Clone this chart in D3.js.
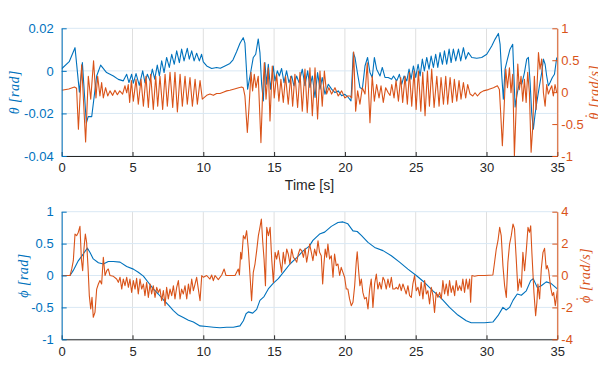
<!DOCTYPE html>
<html lang="en">
<head>
<meta charset="UTF-8">
<title>Angles</title>
<style>
  body { margin: 0; background: #fff; }
  svg { display: block; }
</style>
</head>
<body>
<svg id="chart" width="598" height="387"></svg>

<script src="https://d3js.org/d3.v7.min.js"></script>
<script>
// ---- data ----
const xTicks = [0, 5, 10, 15, 20, 25, 30, 35]
const thetaTicks = [-0.04, -0.02, 0, 0.02]
const thetaDotTicks = [-1, -0.5, 0, 0.5, 1]
const phiTicks = [-1, -0.5, 0, 0.5, 1]
const phiDotTicks = [-4, -2, 0, 2, 4]

// [time s, theta rad]
const theta = [
  [0,0.0010],[0.53,0.0043],[0.94,0.0109],[1.25,-0.0100],[1.46,0.0039],[1.74,-0.0245],[1.87,-0.0215],[2.12,-0.0215],
  [2.47,-0.0024],[2.75,0.0027],[3.17,-0.0008],[3.65,-0.0024],[4.0,-0.0040],[4.35,-0.0047],
  [4.59,-0.0016],[4.75,-0.0055],[4.94,-0.0016],[5.06,-0.0058],[5.25,-0.0013],[5.48,-0.0068],[5.72,0.0000],[5.88,-0.0055],
  [6.05,-0.0016],[6.24,-0.0047],[6.40,0.0008],[6.57,-0.0039],[6.75,0.0027],[6.90,-0.0024],[7.06,0.0047],[7.23,-0.0008],
  [7.41,0.0063],[7.60,0.0016],[7.77,0.0078],[7.95,0.0031],[8.12,0.0094],[8.31,0.0039],[8.47,0.0102],[8.64,0.0047],
  [8.87,0.0106],[9.01,0.0055],[9.18,0.0094],[9.35,0.0047],[9.53,0.0083],[9.72,0.0047],[9.88,0.0078],[10.0,0.0042],
  [10.24,0.0023],[10.59,0.0011],[10.94,0.0016],[11.2,0.0012],[11.53,0.0023],[11.88,0.0035],[12.1,0.0052],[12.35,0.0090],
  [12.59,0.0130],[12.82,0.0156],[12.94,0.0130],[13.13,-0.0086],[13.30,-0.0024],[13.53,0.0063],[13.70,0.0078],[13.88,0.0150],
  [14.0,0.0086],[14.12,-0.0063],[14.24,-0.0141],[14.35,0.0039],[14.47,-0.0063],[14.59,0.0031],[14.75,-0.0086],[14.94,0.0023],
  [15.06,-0.0047],[15.23,0.0000],[15.37,-0.0024],[15.53,0.0011],[15.70,-0.0055],[15.88,0.0000],[16.05,-0.0055],[16.24,-0.0024],
  [16.40,-0.0070],[16.59,-0.0024],[16.76,-0.0055],[16.99,0.0008],[17.18,-0.0070],[17.37,0.0000],[17.53,-0.0078],[17.70,-0.0024],
  [17.89,-0.0125],[18.07,-0.0008],[18.24,-0.0086],[18.40,-0.0031],[18.59,-0.0110],[18.83,-0.0063],[19.06,-0.0086],[19.30,-0.0102],
  [19.53,-0.0094],[19.77,-0.0117],[20.0,-0.0110],[20.24,-0.0125],[20.43,-0.0141],[20.59,0.0086],[20.71,0.0063],[20.90,-0.0016],
  [21.06,-0.0078],[21.23,-0.0086],[21.42,0.0023],[21.60,0.0063],[21.77,-0.0008],[21.93,-0.0031],[22.08,0.0063],[22.24,0.0008],
  [22.48,-0.0024],[22.64,0.0016],[22.83,-0.0031],[23.06,-0.0031],[23.30,-0.0039],[23.43,-0.0024],[23.66,-0.0047],[23.85,-0.0016],
  [24.01,-0.0063],[24.18,-0.0024],[24.37,-0.0047],[24.53,0.0008],[24.67,-0.0039],[24.84,0.0023],[25.0,-0.0031],[25.17,0.0031],
  [25.31,-0.0024],[25.47,0.0055],[25.61,0.0000],[25.78,0.0063],[25.94,0.0008],[26.09,0.0070],[26.25,0.0016],[26.41,0.0078],
  [26.56,0.0016],[26.72,0.0086],[26.89,0.0031],[27.03,0.0094],[27.19,0.0031],[27.36,0.0102],[27.50,0.0039],[27.66,0.0102],
  [27.83,0.0047],[28.02,0.0102],[28.18,0.0047],[28.37,0.0109],[28.53,0.0055],[28.72,0.0086],[28.96,0.0063],[29.31,0.0059],
  [29.66,0.0063],[30.02,0.0078],[30.37,0.0117],[30.60,0.0148],[30.84,0.0176],[30.96,0.0125],[31.08,-0.0024],[31.19,-0.0133],
  [31.31,0.0008],[31.48,0.0055],[31.66,0.0102],[31.85,0.0125],[32.02,-0.0170],[32.14,-0.0117],[32.32,-0.0055],[32.49,-0.0063],
  [32.68,-0.0008],[32.84,0.0055],[32.96,0.0063],[33.08,-0.0055],[33.19,-0.0196],[33.31,-0.0274],[33.43,-0.0204],[33.55,-0.0149],
  [33.74,-0.0070],[33.90,-0.0008],[34.02,0.0055],[34.14,0.0031],[34.25,-0.0024],[34.37,-0.0070],[34.49,-0.0055],[34.65,-0.0031],
  [34.80,-0.0016],[34.96,0.0063]
]

// [time s, theta dot rad/s]
const thetaDot = [
  [0,0.03],[0.5,0.05],[0.9,0.08],[1.05,0.06],[1.18,-0.58],[1.41,0.43],[1.69,-0.78],[1.88,0.25],[2.05,-0.11],[2.25,0.49],
  [2.42,-0.09],[2.54,0.25],[2.70,-0.06],[2.82,0.15],[2.94,-0.09],[3.10,0.07],[3.25,-0.06],[3.41,0.02],[3.60,-0.05],[3.76,0.03],
  [3.93,-0.04],[4.10,0.02],[4.30,-0.03],[4.47,0.10],[4.59,-0.01],[4.70,0.12],[4.80,-0.16],[4.92,0.18],[5.06,-0.14],[5.25,0.20],
  [5.41,-0.19],[5.60,0.20],[5.77,-0.22],[5.95,0.25],[6.12,-0.24],[6.28,0.28],[6.47,-0.27],[6.64,0.25],[6.78,-0.22],[6.94,0.25],
  [7.13,-0.27],[7.30,0.28],[7.46,-0.22],[7.65,0.31],[7.84,-0.24],[8.00,0.31],[8.17,-0.31],[8.36,0.28],[8.52,-0.22],[8.71,0.25],
  [8.87,-0.19],[9.06,0.23],[9.23,-0.22],[9.42,0.20],[9.58,-0.19],[9.77,0.18],[9.93,-0.11],[10.24,-0.05],[10.47,-0.03],[10.71,-0.05],
  [10.94,-0.02],[11.18,-0.02],[11.41,0.00],[11.65,0.02],[11.88,0.03],[12.2,0.05],[12.5,0.07],[12.71,0.08],[12.82,0.07],[12.94,-0.06],
  [13.11,-0.63],[13.22,-0.27],[13.37,0.31],[13.48,0.02],[13.60,0.28],[13.72,0.07],[13.88,0.25],[14.07,-0.79],[14.19,-0.01],[14.31,0.46],
  [14.43,-0.11],[14.59,0.38],[14.71,-0.45],[14.87,0.41],[15.01,-0.09],[15.18,0.28],[15.34,-0.14],[15.48,0.20],[15.65,-0.16],[15.81,0.25],
  [16.0,-0.19],[16.17,0.25],[16.31,-0.22],[16.47,0.28],[16.66,-0.24],[16.83,0.31],[16.99,-0.30],[17.18,0.36],[17.34,-0.32],[17.53,0.38],
  [17.70,-0.37],[17.89,0.38],[18.07,-0.42],[18.24,0.33],[18.40,-0.22],[18.55,0.33],[18.71,-0.03],[18.87,0.07],[19.06,-0.03],[19.30,0.07],
  [19.53,-0.06],[19.77,0.02],[20.0,-0.09],[20.19,-0.06],[20.36,-0.06],[20.48,-0.09],[20.62,0.63],[20.76,-0.30],[20.90,0.02],[21.06,-0.19],
  [21.23,0.07],[21.42,-0.03],[21.58,0.46],[21.77,-0.48],[21.93,0.25],[22.08,-0.14],[22.24,0.12],[22.41,-0.09],[22.55,0.10],[22.71,-0.16],
  [22.88,0.07],[23.06,-0.01],[23.19,-0.05],[23.31,0.12],[23.47,-0.09],[23.61,0.18],[23.78,-0.14],[23.94,0.23],[24.08,-0.16],[24.25,0.25],
  [24.41,-0.19],[24.56,0.31],[24.72,-0.22],[24.88,0.33],[25.03,-0.27],[25.19,0.33],[25.36,-0.30],[25.50,0.31],[25.66,-0.37],[25.83,0.33],
  [25.97,-0.22],[26.13,0.36],[26.30,-0.24],[26.49,0.25],[26.65,-0.22],[26.79,0.23],[26.96,-0.19],[27.12,0.25],[27.26,-0.19],[27.43,0.23],
  [27.59,-0.16],[27.73,0.20],[27.90,-0.14],[28.06,0.18],[28.20,-0.11],[28.37,0.15],[28.53,-0.09],[28.67,0.12],[28.84,-0.03],[29.03,-0.06],
  [29.19,-0.01],[29.36,-0.06],[29.55,-0.01],[29.78,0.02],[30.13,0.04],[30.49,0.07],[30.77,0.10],[30.91,0.04],[31.00,-0.32],[31.12,-0.84],
  [31.24,-0.27],[31.36,0.36],[31.48,0.07],[31.62,0.38],[31.73,-0.01],[31.85,0.28],[31.97,-1.0],[32.09,-0.27],[32.21,0.44],[32.32,0.04],
  [32.44,0.25],[32.56,-0.14],[32.68,0.20],[32.80,-0.16],[32.91,0.31],[33.03,-0.01],[33.15,-0.94],[33.27,-0.53],[33.38,0.25],[33.50,-0.27],
  [33.67,0.62],[33.78,0.36],[33.90,0.52],[34.02,-0.01],[34.14,-0.22],[34.25,0.12],[34.37,-0.03],[34.49,0.04],[34.61,0.10],[34.72,-0.06],
  [34.84,0.12],[34.96,-0.01]
]

// [time s, phi rad]
const phi = [
  [0,0],[0.59,0],[0.82,0.08],[1.17,0.23],[1.53,0.34],[1.81,0.43],[2.0,0.36],[2.23,0.26],[2.59,0.20],[2.94,0.18],[3.29,0.22],
  [3.65,0.22],[4.12,0.21],[4.59,0.14],[5.06,0.10],[5.41,0.05],[5.77,-0.01],[6.12,-0.11],[6.47,-0.21],[6.82,-0.29],[7.18,-0.38],
  [7.53,-0.46],[7.89,-0.55],[8.24,-0.62],[8.59,-0.66],[8.95,-0.70],[9.30,-0.73],[9.77,-0.79],[10.24,-0.80],[10.71,-0.81],[11.18,-0.82],
  [11.65,-0.81],[12.12,-0.81],[12.59,-0.79],[12.83,-0.71],[13.02,-0.60],[13.18,-0.57],[13.49,-0.59],[13.77,-0.53],[14.0,-0.39],
  [14.29,-0.33],[14.59,-0.21],[14.95,-0.12],[15.30,-0.05],[15.65,0.05],[16.12,0.18],[16.6,0.28],[17.07,0.39],[17.49,0.46],
  [17.74,0.55],[18.21,0.65],[18.57,0.68],[19.04,0.77],[19.51,0.83],[19.86,0.84],[20.21,0.81],[20.57,0.70],[20.87,0.69],[21.16,0.63],
  [21.63,0.52],[22.1,0.44],[22.69,0.39],[23.28,0.31],[23.86,0.21],[24.45,0.10],[25.04,0.0],[25.63,-0.11],[26.22,-0.24],[26.81,-0.36],
  [27.39,-0.50],[27.98,-0.62],[28.57,-0.71],[28.92,-0.74],[29.4,-0.74],[29.87,-0.74],[30.45,-0.73],[30.81,-0.63],[31.16,-0.50],
  [31.39,-0.54],[31.63,-0.50],[31.87,-0.39],[32.17,-0.29],[32.46,-0.31],[32.81,-0.24],[33.12,-0.08],[33.3,-0.05],[33.59,-0.19],
  [33.87,-0.16],[34.22,-0.10],[34.53,-0.12],[35.0,-0.21]
]

// [time s, phi dot rad/s]
const phiDot = [
  [0,0],[0.59,0],[0.71,0.41],[0.82,0.93],[0.94,2.6],[1.06,2.5],[1.17,2.7],[1.29,3.08],[1.39,1.03],[1.48,0.3],[1.57,1.66],[1.67,2.6],
  [1.76,2.08],[1.86,0.51],[1.95,-1.26],[2.05,-2.1],[2.14,-1.37],[2.23,-2.62],[2.35,-2.31],[2.47,-0.85],[2.59,-0.53],[2.7,-0.32],
  [2.82,-0.53],[2.94,1.14],[3.06,0],[3.18,0.30],[3.29,0.41],[3.41,0],[3.65,-0.05],[3.88,-0.22],[4.0,-0.43],[4.12,-0.11],[4.24,-0.85],
  [4.35,-0.22],[4.47,-0.64],[4.59,-0.11],[4.71,-0.74],[4.82,-0.22],[4.94,-1.06],[5.06,-0.32],[5.18,-0.85],[5.29,-0.18],[5.41,-1.16],
  [5.53,-0.22],[5.65,-0.85],[5.77,-0.53],[5.88,-1.26],[6.0,-0.43],[6.12,-1.37],[6.24,-0.53],[6.35,-1.16],[6.47,-0.64],[6.59,-1.37],
  [6.71,-0.74],[6.82,-1.06],[6.94,-0.85],[7.06,-1.58],[7.18,-0.95],[7.3,-1.89],[7.41,-0.74],[7.53,-1.47],[7.65,-0.85],[7.77,-1.26],
  [7.89,-0.64],[8.0,-1.47],[8.12,-0.74],[8.24,-0.32],[8.36,-1.47],[8.47,-0.85],[8.59,-1.16],[8.71,-0.64],[8.83,-1.47],[8.95,-0.53],
  [9.06,-1.16],[9.18,-0.22],[9.3,-0.95],[9.42,-0.53],[9.53,-0.11],[9.65,-0.85],[9.77,-1.58],[9.89,0],[10.0,-0.11],[10.24,0],
  [10.47,-0.22],[10.59,0.03],[10.71,-0.32],[10.83,0],[11.06,-0.26],[11.3,0.03],[11.47,0.41],[11.6,0],[11.88,0],[12.24,0],[12.47,0.41],
  [12.55,0.03],[12.64,1.45],[12.71,1.03],[12.83,2.5],[12.95,2.29],[13.06,2.81],[13.18,1.66],[13.3,0],[13.41,-1.58],[13.53,0.2],
  [13.65,0.72],[13.77,1.56],[13.89,2.5],[14.0,3.02],[14.1,3.54],[14.2,2.08],[14.29,1.03],[14.39,-0.64],[14.48,3.02],[14.6,2.5],
  [14.72,3.02],[14.83,1.03],[14.95,-0.43],[15.07,1.45],[15.18,1.03],[15.3,1.56],[15.42,0.83],[15.53,0.2],[15.65,1.45],[15.77,0.72],
  [15.89,1.66],[16.0,1.35],[16.12,0.72],[16.24,1.66],[16.36,1.14],[16.48,1.03],[16.6,0.83],[16.71,1.35],[16.83,1.66],[16.95,1.56],
  [17.07,1.14],[17.19,1.7],[17.3,0.83],[17.39,1.3],[17.51,1.97],[17.63,1.45],[17.74,0.93],[17.86,1.66],[17.98,1.24],[18.1,2.18],
  [18.21,1.45],[18.33,1.24],[18.43,-0.53],[18.52,0.72],[18.61,1.66],[18.71,1.14],[18.8,1.97],[18.92,1.03],[19.04,1.24],[19.16,-0.11],
  [19.27,1.35],[19.39,0.62],[19.51,0.72],[19.63,0],[19.74,0.51],[19.86,0.2],[19.98,-0.11],[20.1,-0.85],[20.21,-0.85],[20.33,-1.47],
  [20.45,-1.89],[20.57,-1.68],[20.69,-0.64],[20.8,0.83],[20.87,1.49],[20.97,0.3],[21.06,-0.64],[21.16,-0.22],[21.27,-1.06],[21.39,-1.47],
  [21.51,-1.37],[21.63,-2.1],[21.75,-0.85],[21.86,-0.22],[21.98,-2.0],[22.1,-0.53],[22.22,0.09],[22.33,-0.85],[22.45,-0.43],[22.57,-0.85],
  [22.69,-0.11],[22.8,-0.32],[22.92,-0.85],[23.04,-0.22],[23.16,-0.74],[23.28,-0.11],[23.39,-0.85],[23.51,-0.85],[23.63,-0.74],[23.75,-0.85],
  [23.86,-0.53],[23.98,-0.95],[24.1,-0.53],[24.22,-0.85],[24.33,-1.16],[24.45,-0.64],[24.57,-1.26],[24.69,-1.37],[24.8,-0.53],[24.92,0],
  [25.04,-0.95],[25.16,-0.74],[25.28,-1.26],[25.39,-0.43],[25.51,-1.47],[25.63,-0.32],[25.75,-1.16],[25.86,-0.95],[25.98,-1.79],[26.1,-0.74],
  [26.22,-1.26],[26.33,-2.31],[26.45,-1.06],[26.57,-1.37],[26.69,-1.06],[26.81,-1.47],[26.92,-0.32],[27.04,-1.16],[27.16,-0.53],[27.28,-1.26],
  [27.39,-0.32],[27.51,-1.06],[27.63,-0.64],[27.75,-1.26],[27.86,-0.32],[27.98,-0.95],[28.1,-0.64],[28.22,-0.95],[28.33,-0.22],[28.45,-1.06],
  [28.57,-0.22],[28.69,-0.85],[28.81,-0.22],[28.88,-1.68],[28.97,0],[29.16,-0.05],[29.4,0],[29.87,0],[30.45,0.03],[30.57,0.83],[30.69,1.66],
  [30.81,2.18],[30.93,3.02],[31.04,2.5],[31.16,0.62],[31.28,-0.64],[31.4,-1.37],[31.51,0.83],[31.63,1.97],[31.75,2.5],[31.87,3.23],
  [31.98,2.92],[32.1,1.03],[32.22,-0.95],[32.34,-0.22],[32.46,-0.74],[32.57,1.45],[32.69,0.3],[32.81,1.56],[32.93,3.02],[33.04,2.71],
  [33.12,3.12],[33.21,1.35],[33.35,-1.06],[33.47,-2.52],[33.56,-1.68],[33.63,-0.53],[33.75,-1.47],[33.87,0.41],[33.99,1.45],[34.1,1.7],
  [34.22,0.41],[34.29,0.62],[34.39,0.3],[34.53,-0.74],[34.65,-1.26],[34.74,-1.06],[34.86,-1.89],[35.0,-0.95]
]

// ---- drawing ----
const BLUE = "#0072BD"
const ORANGE = "#D95319"
const DARK = "#262626"
const TICK_FONT = "'Liberation Sans', Arial, Helvetica, sans-serif"
const MATH_FONT = "'Liberation Serif', 'Times New Roman', serif"

const left = 61.7, right = 557.3
const svg = d3.select("#chart")
svg.append("rect").attr("width", 598).attr("height", 387).attr("fill", "#fff")

const fmt = d => d === 0 ? "0" : String(d)

// rotated y label; `dotted` puts a dot over the first glyph
const yLabel = (g, x, y, color, sym, unit, dotted) => {
    const t = g.append("text")
        .attr("transform", `translate(${x}, ${y}) rotate(-90)`)
        .attr("text-anchor", "middle").attr("dominant-baseline", "central")
        .attr("font-family", MATH_FONT).attr("font-style", "italic")
        .attr("font-size", 14).attr("letter-spacing", 0.5)
        .attr("fill", color)
    t.append("tspan").text(sym)
    if (dotted) {
        t.append("tspan").attr("dx", "-0.5em").attr("dy", "-0.28em").text("\u02D9")
        t.append("tspan").attr("dx", "0.15em").attr("dy", "0.28em").text("\u00A0" + unit)
    } else {
        t.append("tspan").text("\u00A0" + unit)
    }
}

const drawPanel = (p, idx) => {
    const x = d3.scaleLinear().domain([0, 35]).range([left, right])
    const yL = d3.scaleLinear().domain(p.leftDomain).range([p.bottom, p.top])
    const yR = d3.scaleLinear().domain(p.rightDomain).range([p.bottom, p.top])

    const g = svg.append("g")

    // grid: vertical from x ticks, horizontal from left ticks
    g.selectAll(".vgrid").data(xTicks).enter().append("line")
        .attr("x1", d => x(d)).attr("x2", d => x(d))
        .attr("y1", p.top).attr("y2", p.bottom)
        .attr("stroke", "#dfdfdf").attr("stroke-width", 1)
    g.selectAll(".hgrid").data(p.leftTicks).enter().append("line")
        .attr("x1", left).attr("x2", right)
        .attr("y1", d => yL(d)).attr("y2", d => yL(d))
        .attr("stroke", "#d9e8f4").attr("stroke-width", 1)

    const clipId = "clip" + idx
    svg.append("clipPath").attr("id", clipId).append("rect")
        .attr("x", left).attr("y", p.top - 1).attr("width", right - left).attr("height", p.bottom - p.top + 2)

    const lineL = d3.line().x(d => x(d[0])).y(d => yL(d[1]))
    const lineR = d3.line().x(d => x(d[0])).y(d => yR(d[1]))

    g.append("path").datum(p.leftData)
        .attr("d", lineL).attr("fill", "none").attr("stroke", BLUE)
        .attr("stroke-width", 1.1).attr("stroke-linejoin", "round")
        .attr("clip-path", `url(#${clipId})`)
    g.append("path").datum(p.rightData)
        .attr("d", lineR).attr("fill", "none").attr("stroke", ORANGE)
        .attr("stroke-width", 1.1).attr("stroke-linejoin", "round")
        .attr("clip-path", `url(#${clipId})`)

    // axes
    const xAxis = g.append("g")
        .attr("transform", `translate(0, ${p.bottom})`)
        .call(d3.axisBottom(x).tickValues(xTicks).tickSize(-4).tickSizeOuter(0).tickPadding(7).tickFormat(fmt))
    xAxis.selectAll("path, line").attr("stroke", DARK)
    xAxis.selectAll("text").attr("fill", DARK)

    const lAxis = g.append("g")
        .attr("transform", `translate(${left}, 0)`)
        .call(d3.axisLeft(yL).tickValues(p.leftTicks).tickSize(-5).tickSizeOuter(0).tickPadding(8).tickFormat(fmt))
    lAxis.selectAll("path, line").attr("stroke", BLUE)
    lAxis.selectAll("text").attr("fill", BLUE)

    const rAxis = g.append("g")
        .attr("transform", `translate(${right}, 0)`)
        .call(d3.axisRight(yR).tickValues(p.rightTicks).tickSize(-5).tickSizeOuter(0).tickPadding(4).tickFormat(fmt))
    rAxis.selectAll("path, line").attr("stroke", ORANGE)
    rAxis.selectAll("text").attr("fill", ORANGE)

    ;[xAxis, lAxis, rAxis].forEach(a => a.attr("font-family", TICK_FONT).attr("font-size", 13))

    const mid = (p.top + p.bottom) / 2
    yLabel(g, p.leftLabelX, mid, BLUE, p.sym, "[rad]", false)
    yLabel(g, p.rightLabelX, mid, ORANGE, p.sym, "[rad/s]", true)
}

drawPanel({
    top: 28.3, bottom: 156,
    leftDomain: [-0.04, 0.02], rightDomain: [-1, 1],
    leftTicks: thetaTicks, rightTicks: thetaDotTicks,
    leftData: theta, rightData: thetaDot,
    sym: "θ",
    leftLabelX: 14, rightLabelX: 594
}, 0)

drawPanel({
    top: 211.7, bottom: 339.3,
    leftDomain: [-1, 1], rightDomain: [-4, 4],
    leftTicks: phiTicks, rightTicks: phiDotTicks,
    leftData: phi, rightData: phiDot,
    sym: "ϕ",
    leftLabelX: 23, rightLabelX: 585
}, 1)

svg.append("text")
    .attr("x", 309.5).attr("y", 185)
    .attr("text-anchor", "middle").attr("dominant-baseline", "central")
    .attr("font-family", TICK_FONT).attr("font-size", 14).attr("fill", DARK)
    .text("Time [s]")
</script>
</body>
</html>
